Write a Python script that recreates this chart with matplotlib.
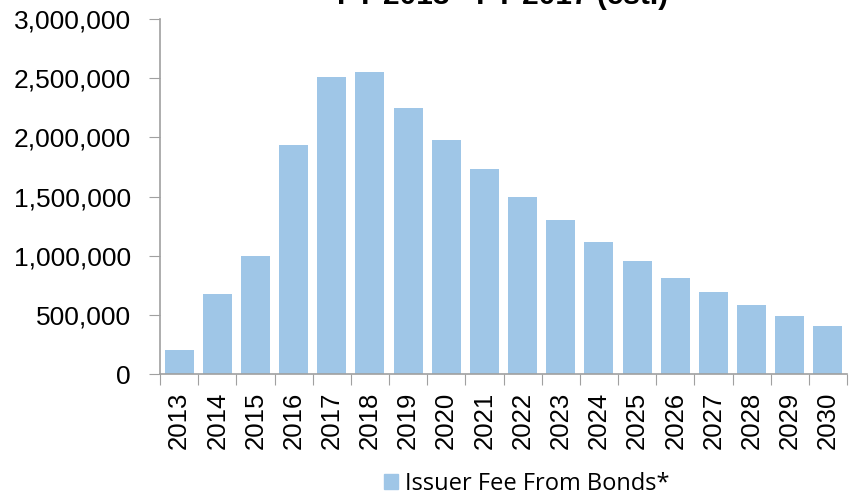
import matplotlib
matplotlib.use('Agg')
import matplotlib.pyplot as plt
from matplotlib.ticker import FuncFormatter, FixedLocator
import matplotlib.patches as mpatches

years = [str(y) for y in range(2013, 2031)]
issuer_fee = [200000, 675000, 1000000, 1935000, 2510000, 2552000, 2248000, 1977000,
              1732000, 1496000, 1301000, 1115000, 955000, 811000, 693000, 583000,
              490000, 405000]
title = 'FY 2013 - FY 2017 (est.)'
legend_label = 'Issuer Fee From Bonds*'

bar_color = '#9fc6e7'
axis_color = '#a0a0a0'

fig = plt.figure(figsize=(8.5, 4.96), dpi=100)
ax = fig.add_axes([160/850, 1 - 374/496, (847 - 160)/850, (374 - 19)/496])

x = list(range(len(years)))
ax.bar(x, issuer_fee, width=0.76, color=bar_color, edgecolor='none')

ax.set_xlim(-0.5, len(years) - 0.5)
ax.set_ylim(0, 3000000)
ax.set_yticks(range(0, 3000001, 500000))
ax.yaxis.set_major_formatter(FuncFormatter(lambda v, p: f'{int(v):,}'))

# tick marks between categories, labels at the centres
ax.xaxis.set_major_locator(FixedLocator([i - 0.5 for i in range(len(years) + 1)]))
ax.xaxis.set_minor_locator(FixedLocator(x))
ax.set_xticklabels([''] * (len(years) + 1))
ax.set_xticklabels(years, minor=True, rotation=90, fontsize=18.5,
                   family='Liberation Sans', va='top')
ax.tick_params(axis='x', which='major', length=8, color=axis_color, direction='out')
ax.tick_params(axis='x', which='minor', length=0, pad=13)
ax.tick_params(axis='y', length=8, color=axis_color, direction='out', pad=13)
for lab in ax.get_yticklabels():
    lab.set_fontsize(19)
    lab.set_family('Liberation Sans')

for s in ['top', 'right']:
    ax.spines[s].set_visible(False)
for s in ['left', 'bottom']:
    ax.spines[s].set_color(axis_color)
    ax.spines[s].set_linewidth(1.2)

fig.text(337/850, 1 - 4/496, title, fontsize=21.5, fontweight='bold',
         family='Liberation Sans', ha='left', va='baseline')

patch = mpatches.Patch(color=bar_color, label=legend_label)
fig.legend(handles=[patch], loc='center', bbox_to_anchor=(527/850, 1 - 484/496),
           frameon=False, prop={'family': 'Open Sans', 'size': 17},
           handlelength=0.6, handleheight=0.6, handletextpad=0.3)

fig.savefig('out.png', dpi=100)
